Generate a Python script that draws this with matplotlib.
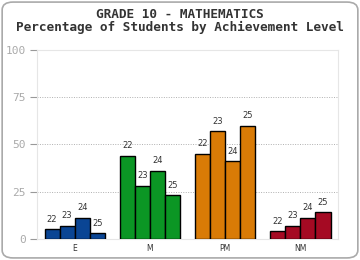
import matplotlib
matplotlib.use("Agg")
import matplotlib.pyplot as plt
from matplotlib.patches import FancyBboxPatch
import numpy as np

categories = ["E", "M", "PM", "NM"]
series = ["22", "23", "24", "25"]
values = {
    "E":  [5, 7, 11, 3],
    "M":  [44, 28, 36, 23],
    "PM": [45, 57, 41, 60],
    "NM": [4, 7, 11, 14],
}
colors = {"E": "#0a4594", "M": "#0b9624", "PM": "#d97b06", "NM": "#a50a23"}
yticks = [0, 25, 50, 75, 100]

fig = plt.figure(figsize=(3.6, 2.6), dpi=100)
fig.patch.set_facecolor("white")
border = FancyBboxPatch((0.006, 0.008), 0.988, 0.984, boxstyle="round,pad=0,rounding_size=0.03",
                        transform=fig.transFigure, facecolor="none", edgecolor="#aaaaaa", lw=1.2,
                        zorder=-1)
fig.patches.append(border)

ax = fig.add_axes([0.103, 0.081, 0.836, 0.727])
ax.set_facecolor("white")
mono = "DejaVu Sans Mono"
n = len(series)
w = 0.2
for i, cat in enumerate(categories):
    for j, s in enumerate(series):
        x = i + (j - (n - 1) / 2) * w
        v = values[cat][j]
        ax.bar(x, v, width=w, color=colors[cat], edgecolor="black", lw=1.0, zorder=3)
        ax.text(x, v + 3, s, ha="center", va="bottom", fontsize=6, color="#333333",
                family="DejaVu Sans", zorder=4)

ax.set_xlim(-0.5, 3.5)
ax.set_ylim(0, 100)
ax.set_yticks(yticks)
ax.set_yticklabels([str(t) for t in yticks], family=mono, fontsize=8, color="#aaaaaa")
ax.set_xticks(range(len(categories)))
ax.set_xticklabels(categories, family="DejaVu Sans", fontsize=5.5, color="#333333")
ax.tick_params(axis="x", length=0, pad=4)
ax.tick_params(axis="y", length=5, color="#999999", pad=3)
for t in [25, 50, 75]:
    ax.axhline(t, color="#b0b0b0", lw=0.7, ls=(0, (1, 1.5)), zorder=1)
for sp in ax.spines.values():
    sp.set_color("#e6e6e6")
    sp.set_linewidth(0.8)

fig.text(0.5, 0.945, "GRADE 10 - MATHEMATICS", ha="center", va="center",
         family=mono, fontweight="bold", fontsize=9.2, color="#333333")
fig.text(0.5, 0.895, "Percentage of Students by Achievement Level", ha="center", va="center",
         family=mono, fontweight="bold", fontsize=9.2, color="#333333")

fig.savefig("out.png", dpi=100, facecolor="white")
